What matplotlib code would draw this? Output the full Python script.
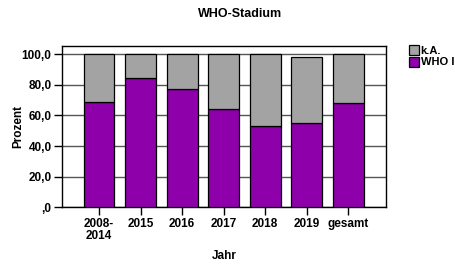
import matplotlib
matplotlib.use("Agg")
import matplotlib.pyplot as plt
from matplotlib.patches import Patch

categories = ["2008-\n2014", "2015", "2016", "2017", "2018", "2019", "gesamt"]
who1 = [68.5, 84.5, 77.0, 64.1, 53.0, 55.2, 67.8]
total = [100.0, 100.0, 100.0, 100.0, 100.0, 98.3, 100.0]
ka = [t - w for t, w in zip(total, who1)]
yticks = [0, 20, 40, 60, 80, 100]
ytick_labels = [",0", "20,0", "40,0", "60,0", "80,0", "100,0"]

purple = "#8E00AA"
gray = "#A3A3A3"

plt.rcParams["font.family"] = ["Liberation Sans", "DejaVu Sans"]
fig = plt.figure(figsize=(4.56, 2.64), dpi=100)
ax = fig.add_axes([62/456, 1-207.3/264, (385.7-62)/456, (207.3-46)/264])

x = list(range(len(categories)))
ax.bar(x, who1, width=0.745, color=purple, edgecolor="black", linewidth=0.9, zorder=3)
ax.bar(x, ka, bottom=who1, width=0.745, color=gray, edgecolor="black", linewidth=0.9, zorder=3)

ax.set_xlim(-0.89, 6.9)
ax.set_ylim(0, 105.3)
ax.set_yticks(yticks)
ax.set_yticklabels(ytick_labels, fontsize=8.5, fontweight="bold")
ax.set_xticks(x)
ax.set_xticklabels(categories, fontsize=8.5, fontweight="bold", linespacing=1.0)
ax.yaxis.grid(True, color="#555555", linewidth=1.0, zorder=0)
ax.tick_params(axis="both", direction="out", length=6, width=1, colors="black", pad=1.5)
for s in ax.spines.values():
    s.set_linewidth(1.0)
    s.set_color("black")

ax.set_ylabel("Prozent", fontsize=8.5, fontweight="bold")
ax.yaxis.set_label_coords((24-62)/323.7, 0.5)
ax.set_xlabel("Jahr", fontsize=8.5, fontweight="bold", labelpad=6)
fig.text(240/456, 1-14/264, "WHO-Stadium", ha="center", va="center", fontsize=9, fontweight="bold")

handles = [Patch(facecolor=gray, edgecolor="black", linewidth=0.9, label="k.A."),
           Patch(facecolor=purple, edgecolor="black", linewidth=0.9, label="WHO I")]
leg = fig.legend(handles=handles, loc="upper left", bbox_to_anchor=(409/456, 1-45/264),
                 frameon=False, prop={"size": 8, "weight": "bold"},
                 handlelength=0.9, handleheight=1.05, handletextpad=0.15,
                 labelspacing=0.05, borderpad=0, borderaxespad=0)

fig.savefig("out.png", dpi=100)
